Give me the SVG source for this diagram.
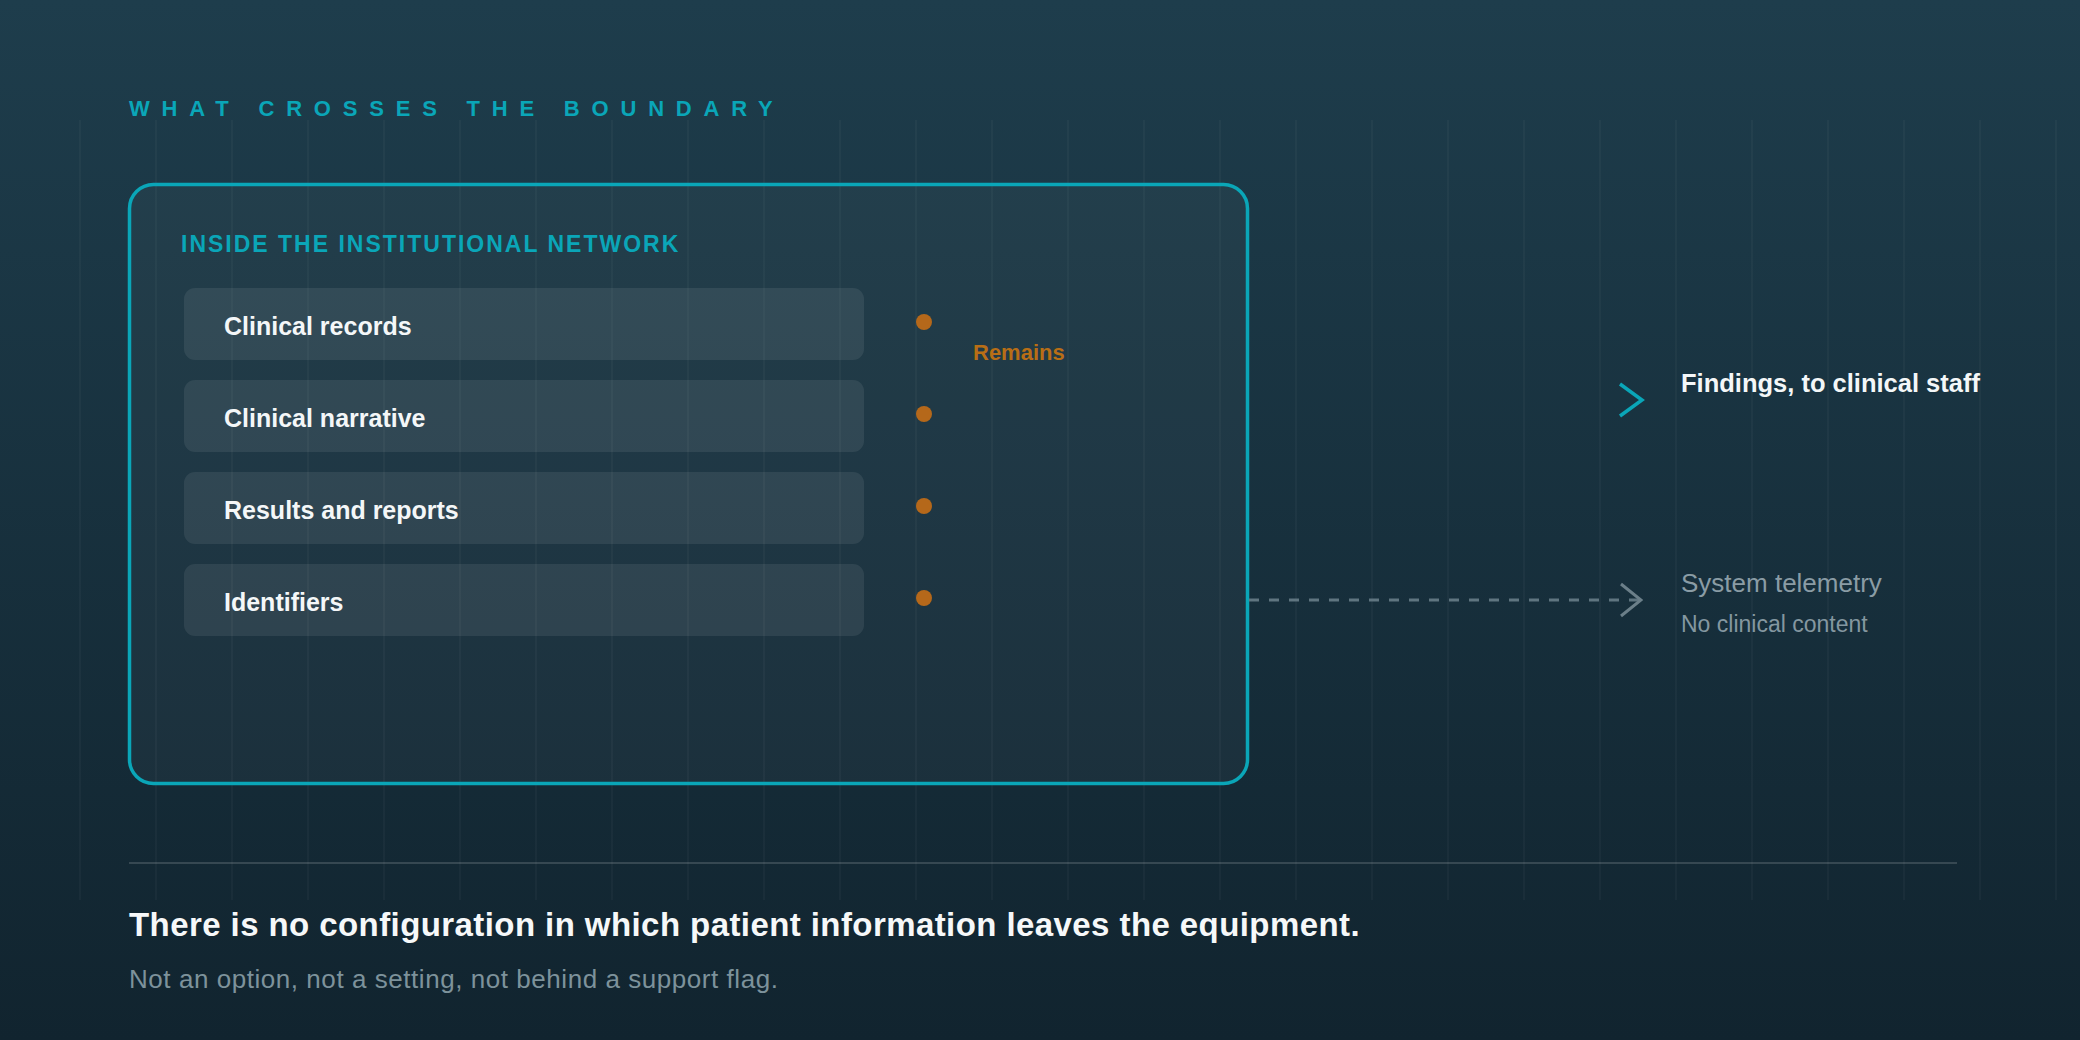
<svg xmlns="http://www.w3.org/2000/svg" width="2080" height="1040" viewBox="0 0 2080 1040">
  <defs>
    <linearGradient id="bg" x1="0" y1="0" x2="0" y2="1">
      <stop offset="0" stop-color="#1e3d4c"/>
      <stop offset="1" stop-color="#11242f"/>
    </linearGradient>
    <marker id="chev-gray" viewBox="0 0 24 36" refX="22" refY="18" markerWidth="24" markerHeight="36" markerUnits="userSpaceOnUse" orient="auto">
      <polyline points="2,2 22,18 2,34" fill="none" stroke="#6b7f89" stroke-width="3"/>
    </marker>
    <style>
      .grid line { stroke: #ffffff; stroke-opacity: 0.045; stroke-width: 1.5; }
      .row { fill: #ffffff; fill-opacity: 0.08; }
      .rowtxt { font-family: "Liberation Sans", Arial, sans-serif; font-weight: 700; font-size: 25px; fill: #f4f7f8; }
      .dot { fill: #b5681a; }
      .sans { font-family: "Liberation Sans", Arial, sans-serif; }
    </style>
  </defs>
  <rect x="0" y="0" width="2080" height="1040" fill="url(#bg)"/>
  <g class="grid">
    <line x1="80" y1="120" x2="80" y2="900"/><line x1="156" y1="120" x2="156" y2="900"/><line x1="232" y1="120" x2="232" y2="900"/><line x1="308" y1="120" x2="308" y2="900"/><line x1="384" y1="120" x2="384" y2="900"/><line x1="460" y1="120" x2="460" y2="900"/><line x1="536" y1="120" x2="536" y2="900"/><line x1="612" y1="120" x2="612" y2="900"/><line x1="688" y1="120" x2="688" y2="900"/><line x1="764" y1="120" x2="764" y2="900"/><line x1="840" y1="120" x2="840" y2="900"/><line x1="916" y1="120" x2="916" y2="900"/><line x1="992" y1="120" x2="992" y2="900"/><line x1="1068" y1="120" x2="1068" y2="900"/><line x1="1144" y1="120" x2="1144" y2="900"/><line x1="1220" y1="120" x2="1220" y2="900"/><line x1="1296" y1="120" x2="1296" y2="900"/><line x1="1372" y1="120" x2="1372" y2="900"/><line x1="1448" y1="120" x2="1448" y2="900"/><line x1="1524" y1="120" x2="1524" y2="900"/><line x1="1600" y1="120" x2="1600" y2="900"/><line x1="1676" y1="120" x2="1676" y2="900"/><line x1="1752" y1="120" x2="1752" y2="900"/><line x1="1828" y1="120" x2="1828" y2="900"/><line x1="1904" y1="120" x2="1904" y2="900"/><line x1="1980" y1="120" x2="1980" y2="900"/><line x1="2056" y1="120" x2="2056" y2="900"/>
  </g>
  <text x="129" y="116" class="sans" font-size="22" font-weight="700" letter-spacing="11.8" fill="#0aa6b8">WHAT CROSSES THE BOUNDARY</text>

  <g id="boundary">
    <rect x="129.5" y="184.5" width="1118" height="599" rx="24" fill="#ffffff" fill-opacity="0.03" stroke="#0aa6b8" stroke-width="3.5"/>
    <text x="181" y="252" class="sans" font-size="23" font-weight="700" letter-spacing="2" fill="#0aa6b8">INSIDE THE INSTITUTIONAL NETWORK</text>
  </g>

  <g id="row-clinical-records">
    <rect class="row" x="184" y="288" width="680" height="72" rx="11"/>
    <text class="rowtxt" x="224" y="335">Clinical records</text>
    <circle class="dot" cx="924" cy="322" r="8"/>
  </g>
  <g id="row-clinical-narrative">
    <rect class="row" x="184" y="380" width="680" height="72" rx="11"/>
    <text class="rowtxt" x="224" y="427">Clinical narrative</text>
    <circle class="dot" cx="924" cy="414" r="8"/>
  </g>
  <g id="row-results">
    <rect class="row" x="184" y="472" width="680" height="72" rx="11"/>
    <text class="rowtxt" x="224" y="519">Results and reports</text>
    <circle class="dot" cx="924" cy="506" r="8"/>
  </g>
  <g id="row-identifiers">
    <rect class="row" x="184" y="564" width="680" height="72" rx="11"/>
    <text class="rowtxt" x="224" y="611">Identifiers</text>
    <circle class="dot" cx="924" cy="598" r="8"/>
  </g>
  <g id="remains-label">
    <text x="973" y="360" class="sans" font-size="22" font-weight="700" fill="#b86e16">Remains</text>
  </g>

  <g id="connectors">
    <polyline points="1620,384 1642,400 1620,416" fill="none" stroke="#0aa6b8" stroke-width="3.5"/>
    <line x1="1249" y1="600" x2="1641" y2="600" stroke="#5f7580" stroke-width="3" stroke-dasharray="10 10" marker-end="url(#chev-gray)"/>
  </g>

  <g id="findings">
    <text x="1681" y="392" class="sans" font-size="25.5" font-weight="700" fill="#f4f7f8">Findings, to clinical staff</text>
  </g>
  <g id="telemetry">
    <text x="1681" y="592" class="sans" font-size="26" fill="#8a9ca5">System telemetry</text>
    <text x="1681" y="632" class="sans" font-size="23" fill="#8497a0">No clinical content</text>
  </g>

  <line x1="129" y1="863" x2="1957" y2="863" stroke="#ffffff" stroke-opacity="0.15" stroke-width="2"/>
  <text x="129" y="936" class="sans" font-size="33" font-weight="700" letter-spacing="0.42" fill="#f6f8f9">There is no configuration in which patient information leaves the equipment.</text>
  <text x="129" y="988" class="sans" font-size="26" letter-spacing="0.55" fill="#7d929b">Not an option, not a setting, not behind a support flag.</text>
</svg>
